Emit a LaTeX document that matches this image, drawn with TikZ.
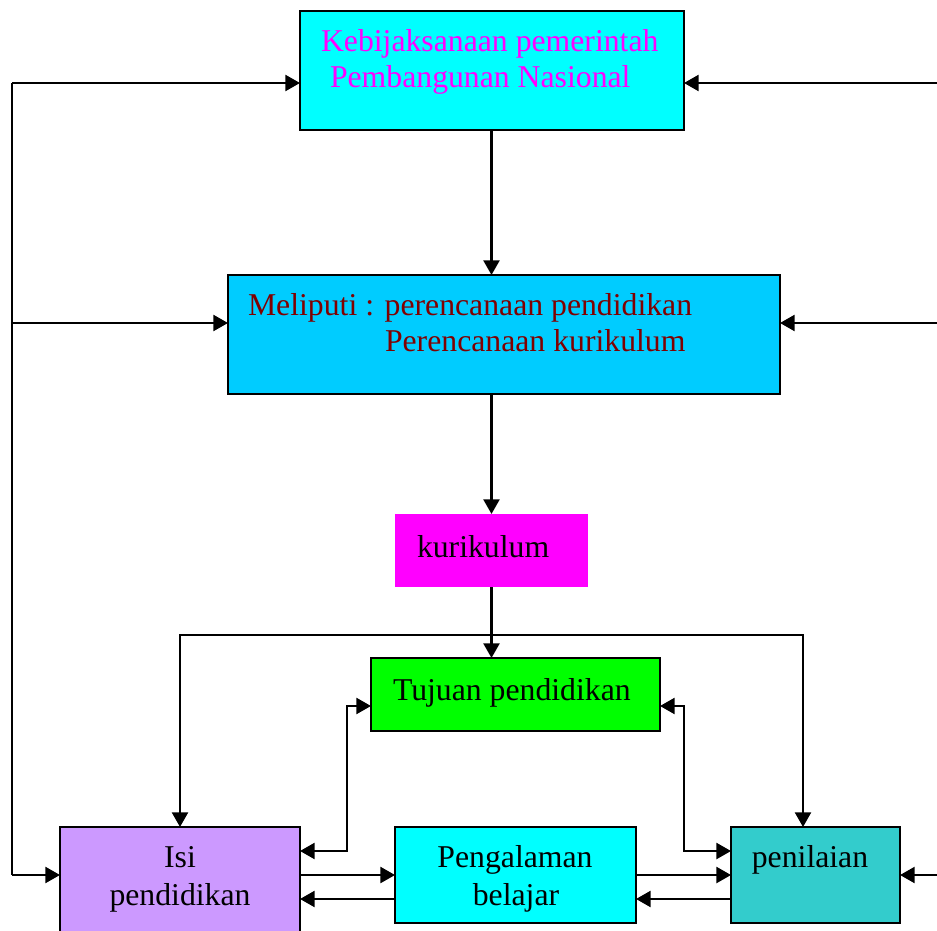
\documentclass[tikz,border=0pt]{standalone}
\usepackage{fontspec}
\setmainfont{Liberation Serif}
\usetikzlibrary{arrows.meta,calc}
\definecolor{cCyan}{HTML}{00FFFF}
\definecolor{cSky}{HTML}{00CCFF}
\definecolor{cMag}{HTML}{FF00FF}
\definecolor{cRed}{HTML}{800000}
\definecolor{cGreen}{HTML}{00FF00}
\definecolor{cLil}{HTML}{CC99FF}
\definecolor{cTeal}{HTML}{33CCCC}
\tikzset{
  box/.style={draw=black,line width=1.6pt,inner sep=0pt,outer sep=0pt},
  plainbox/.style={inner sep=0pt,outer sep=0pt},
  lbl/.style={inner sep=0pt,outer sep=0pt,font=\fontsize{23.8}{28}\selectfont},
  conn/.style={line width=1.8pt},
  arr/.style={conn,-{Triangle[length=11pt,width=12pt]}},
  darr/.style={conn,{Triangle[length=11pt,width=12pt]}-{Triangle[length=11pt,width=12pt]}}
}
\begin{document}
\begin{tikzpicture}[x=0.75pt,y=-0.75pt]
\useasboundingbox (0,0) rectangle (937,930);
% boxes
\node[box,fill=cCyan,minimum width=288pt,minimum height=89.25pt] (top) at (492,70.5) {};
\node[box,fill=cSky,minimum width=414pt,minimum height=89.25pt] (mel) at (504,334.5) {};
\node[plainbox,fill=cMag,minimum width=144.75pt,minimum height=54.75pt] (kur) at (491.5,550.5) {};
\node[box,fill=cGreen,minimum width=216.75pt,minimum height=54.75pt] (tuj) at (515.5,694.5) {};
\node[box,fill=cLil,minimum width=180pt,minimum height=82.5pt] (isi) at (180,882) {};
\node[box,fill=cCyan,minimum width=180.75pt,minimum height=72pt] (pen) at (515.5,875) {};
\node[box,fill=cTeal,minimum width=126.75pt,minimum height=72pt] (nil) at (815.5,875) {};
% texts
\node[lbl,text=cMag,anchor=base west] (t1) at (321,52) {Kebijaksanaan pemerintah};
\node[lbl,text=cMag,anchor=base west] (t2) at (330,88) {Pembangunan Nasional};
\node[lbl,text=cRed,anchor=base west] (m1) at (248,315) {Meliputi : perencanaan pendidikan};
\node[lbl,text=cRed,anchor=base west] (m2) at (385,351) {Perencanaan kurikulum};
\node[lbl,anchor=base west] (k1) at (417,557) {kurikulum};
\node[lbl,anchor=base west] (tj1) at (393,700) {Tujuan pendidikan};
\node[lbl,anchor=base] (i1) at (180,867) {Isi};
\node[lbl,anchor=base] (i2) at (180,905) {pendidikan};
\node[lbl,anchor=base] (p1) at (515,867) {Pengalaman};
\node[lbl,anchor=base] (p2) at (516,905) {belajar};
\node[lbl,anchor=base] (n1) at (810,867) {penilaian};
% left feedback
\coordinate (lt) at (12,83);
\coordinate (lm) at (12,323);
\coordinate (lb) at (12,875);
\draw[conn] (lt) -- (lb);
\draw[arr] (lt) -- (lt -| top.west);
\draw[arr] (lm) -- (lm -| mel.west);
\draw[arr] (lb) -- (lb -| isi.west);
% right feedback
\coordinate (rt) at (937,83);
\coordinate (rm) at (937,323);
\coordinate (rb) at (937,875);
\draw[arr] (rt) -- (rt -| top.east);
\draw[arr] (rm) -- (rm -| mel.east);
\draw[arr] (rb) -- (rb -| nil.east);
% main vertical
\draw[arr] (kur.north |- top.south) -- (kur.north |- mel.north);
\draw[arr] (kur.north |- mel.south) -- (kur.north);
\draw[arr] (kur.south) -- (kur.south |- tuj.north);
% bus
\coordinate (bus) at (491,635);
\draw[arr] (bus) -| (isi.north);
\draw[arr] (bus) -| ($(nil.north west)!0.426!(nil.north east)$);
% tujuan double arrows
\draw[darr] ($(tuj.west)+(0,11.5)$) -- ++(-24,0) |- ($(isi.east)+(0,-31)$);
\draw[darr] ($(tuj.east)+(0,11.5)$) -- ++(24,0) |- ($(nil.west)+(0,-24)$);
% bottom row
\draw[arr] (isi.east |- pen.west) -- (pen.west);
\draw[arr] ($(pen.west)+(0,24)$) coordinate (q1) -- (q1 -| isi.east);
\draw[arr] (pen.east) -- (nil.west);
\draw[arr] ($(nil.west)+(0,24)$) coordinate (q2) -- (q2 -| pen.east);
\end{tikzpicture}
\end{document}
